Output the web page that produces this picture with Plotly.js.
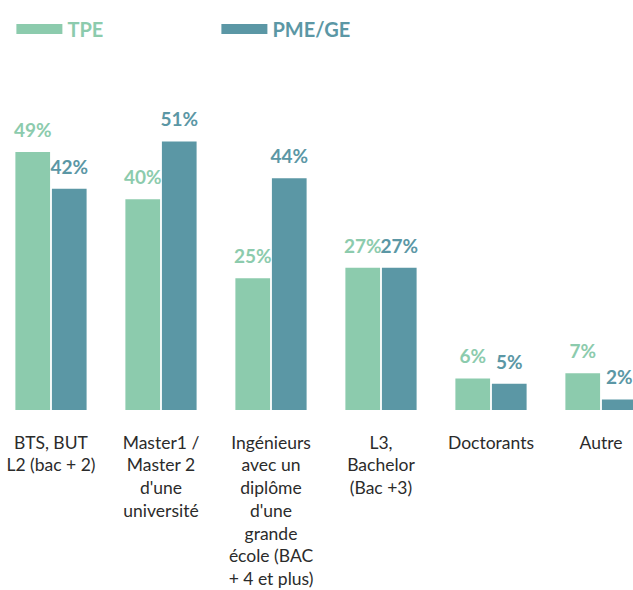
<!DOCTYPE html>
<html>
<head>
<meta charset="utf-8">
<script src="https://cdn.plot.ly/plotly-3.0.1.min.js"></script>
<style>html,body{margin:0;padding:0;background:#fff;}#chart{width:633px;height:590px;}</style>
</head>
<body>
<div id="chart"></div>
<script>
const categories = [
  "BTS, BUT<br>L2 (bac + 2)",
  "Master1 /<br>Master 2<br>d'une<br>université",
  "Ingénieurs<br>avec un<br>diplôme<br>d'une<br>grande<br>école (BAC<br>+ 4 et plus)",
  "L3,<br>Bachelor<br>(Bac +3)",
  "Doctorants",
  "Autre"
];
const tpeValues = [49, 40, 25, 27, 6, 7];
const pmeValues = [42, 51, 44, 27, 5, 2];
const seriesNames = ["TPE", "PME/GE"];
const colors = ["#8ccbad", "#5b97a5"];

const fmt = v => v + "%";
const barTrace = (name, vals, color, grp) => ({
  type: "bar",
  name: name,
  x: categories,
  y: vals,
  offsetgroup: grp,
  marker: {color: color, line: {width: 0}},
  showlegend: false,
  hoverinfo: "x+y"
});
const labelTrace = (name, vals, color, grp) => ({
  type: "scatter",
  mode: "markers+text",
  name: name,
  x: categories,
  y: vals,
  offsetgroup: grp,
  marker: {size: 15, opacity: 0, color: color},
  text: vals.map(fmt),
  textposition: "top center",
  textfont: {family: "Lato, sans-serif", size: 19, color: color, weight: 700},
  cliponaxis: false,
  showlegend: false,
  hoverinfo: "skip"
});
const legendTrace = (name, color, grp) => ({
  type: "scatter",
  mode: "lines",
  name: "<b>" + name + "</b>",
  x: [null], y: [null],
  offsetgroup: grp,
  line: {color: color, width: 17},
  hoverinfo: "skip"
});

const data = [
  barTrace(seriesNames[0], tpeValues, colors[0], "a"),
  barTrace(seriesNames[1], pmeValues, colors[1], "b"),
  labelTrace(seriesNames[0], tpeValues, colors[0], "a"),
  labelTrace(seriesNames[1], pmeValues, colors[1], "b"),
  legendTrace(seriesNames[0], colors[0], "a"),
  legendTrace(seriesNames[1], colors[1], "b")
];

const layout = {
  width: 633, height: 590,
  margin: {l: 0, r: 0, t: 94, b: 180, pad: 0},
  paper_bgcolor: "#fff", plot_bgcolor: "#fff",
  barmode: "group",
  bargap: 0.336,
  bargroupgap: 0.05,
  scattermode: "group",
  scattergap: 0.336,
  font: {family: "Lato, sans-serif", color: "#2b2b2b"},
  xaxis: {
    type: "category",
    range: [-0.4636, 5.2909],
    showgrid: false, zeroline: false, showline: false,
    ticks: "",
    ticklabelstandoff: 20,
    tickfont: {family: "Lato, sans-serif", size: 17.5, color: "#2b2b2b"},
    fixedrange: true
  },
  yaxis: {
    range: [0, 60],
    visible: false,
    fixedrange: true
  },
  legend: {
    orientation: "h",
    x: 0.018, xanchor: "left",
    y: 1.206, yanchor: "middle",
    itemwidth: 46,
    entrywidth: 144, entrywidthmode: "pixels",
    font: {family: "Lato, sans-serif", size: 20, color: colors[0]},
    bgcolor: "rgba(0,0,0,0)"
  }
};

Plotly.newPlot("chart", data, layout, {displayModeBar: false, staticPlot: true}).then(() => {
  const texts = document.querySelectorAll(".legend .legendtext");
  texts.forEach((t, i) => { t.style.fill = colors[i] || colors[0]; });
});
</script>
</body>
</html>
